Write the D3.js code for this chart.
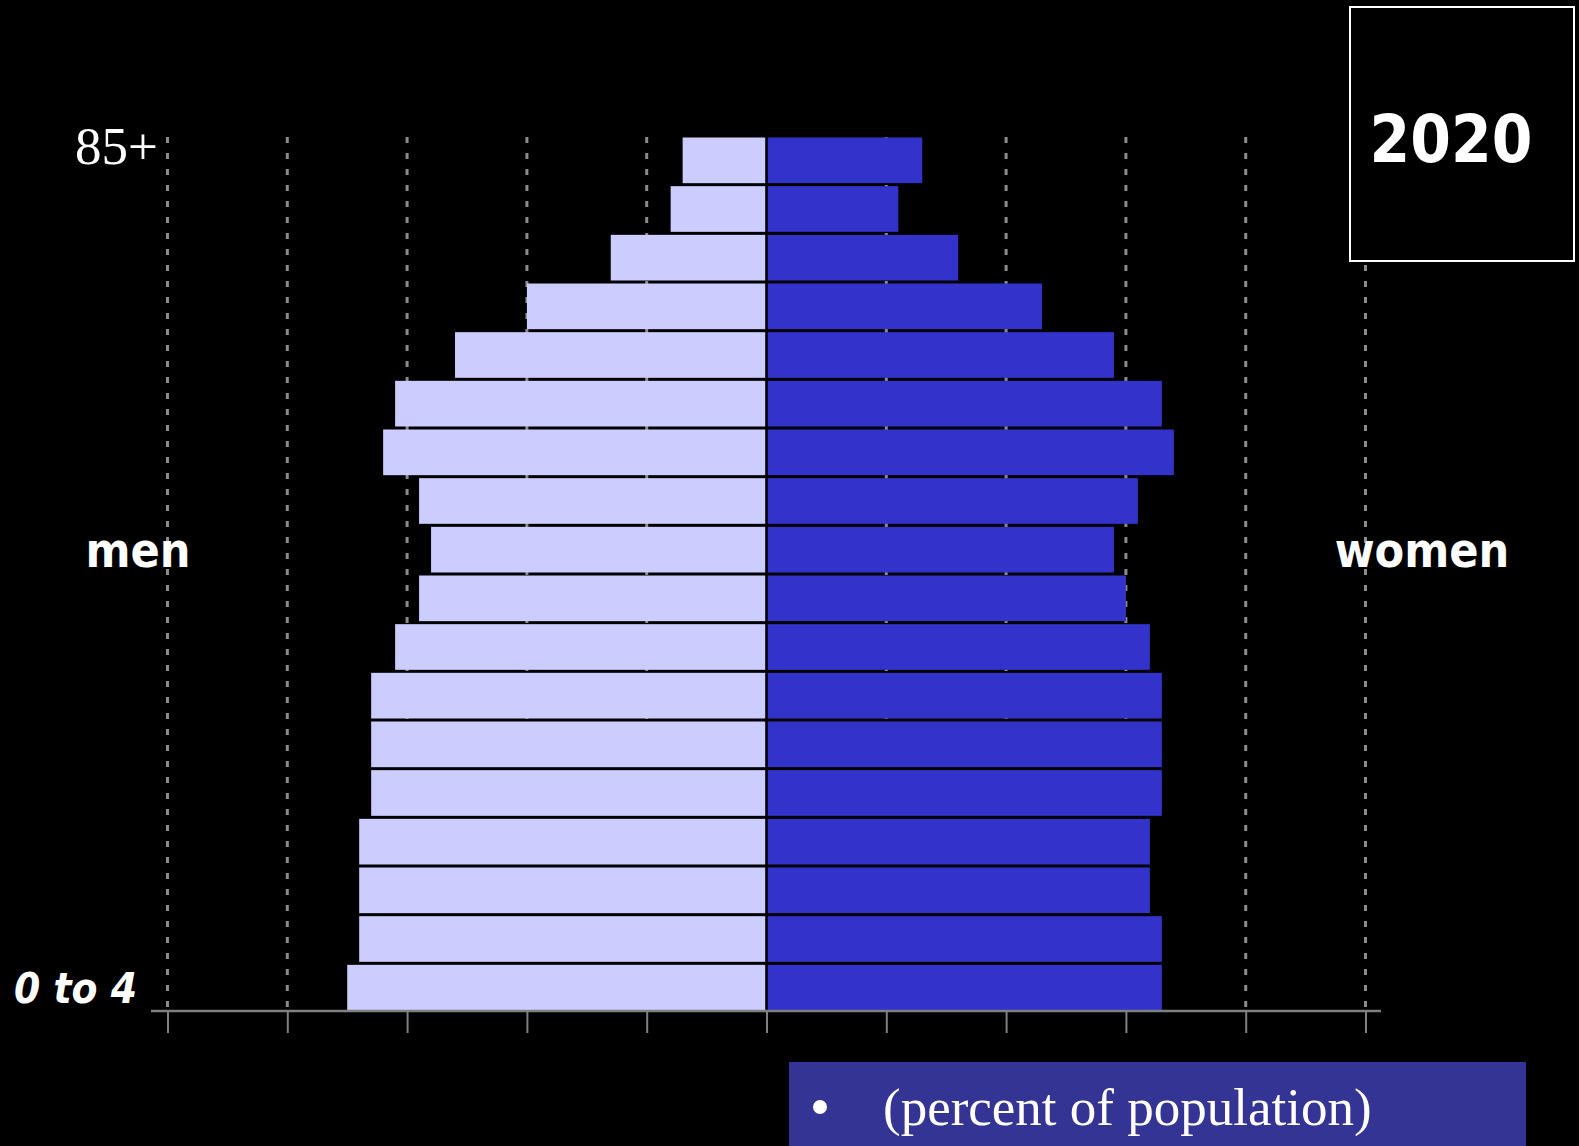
<!DOCTYPE html>
<html>
<head>
<meta charset="utf-8">
<script src="https://cdn.jsdelivr.net/npm/d3@7/dist/d3.min.js"></script>
<style>
  html, body { margin: 0; padding: 0; background: #000; }
  svg { display: block; }
</style>
</head>
<body>
<svg id="chart" width="1579" height="1146"></svg>
<script>
// Age groups, youngest first
const ageGroups = ["0 to 4", "5 to 9", "10 to 14", "15 to 19", "20 to 24", "25 to 29",
  "30 to 34", "35 to 39", "40 to 44", "45 to 49", "50 to 54", "55 to 59",
  "60 to 64", "65 to 69", "70 to 74", "75 to 79", "80 to 84", "85+"];
// Share of total population (%) per age group
const menValues = [3.5, 3.4, 3.4, 3.4, 3.3, 3.3, 3.3, 3.1, 2.9, 2.8, 2.9, 3.2,
  3.1, 2.6, 2.0, 1.3, 0.8, 0.7];
const womenValues = [3.3, 3.3, 3.2, 3.2, 3.3, 3.3, 3.3, 3.2, 3.0, 2.9, 3.1, 3.4,
  3.3, 2.9, 2.3, 1.6, 1.1, 1.3];
const tickValues = [-5, -4, -3, -2, -1, 0, 1, 2, 3, 4, 5];
const yearLabel = "2020";

const svg = d3.select("#chart");

const x = d3.scaleLinear().domain([-5, 5]).range([167.5, 1365.5]);
const y = d3.scaleBand().domain(ageGroups.slice().reverse()).range([134.5, 1010.5]).paddingInner(0);
const cx = x(0);
const gap = 1.3;
const barGap = 3;

// dotted vertical gridlines behind the bars
svg.append("g").selectAll("line")
  .data(tickValues.filter(t => t !== 0))
  .join("line")
  .attr("x1", d => x(d)).attr("x2", d => x(d))
  .attr("y1", 137).attr("y2", 1010)
  .attr("stroke", "#8c8c8c")
  .attr("stroke-width", 3)
  .attr("stroke-dasharray", "6,10");

const rows = ageGroups.map((a, i) => ({ age: a, men: menValues[i], women: womenValues[i] }));

// men, left side
svg.append("g").selectAll("rect")
  .data(rows)
  .join("rect")
  .attr("x", d => x(-d.men))
  .attr("y", d => y(d.age) + barGap)
  .attr("width", d => cx - gap - x(-d.men))
  .attr("height", y.bandwidth() - barGap)
  .attr("fill", "#ccccff");

// women, right side
svg.append("g").selectAll("rect")
  .data(rows)
  .join("rect")
  .attr("x", cx + gap)
  .attr("y", d => y(d.age) + barGap)
  .attr("width", d => x(d.women) - cx - gap)
  .attr("height", y.bandwidth() - barGap)
  .attr("fill", "#3333cc");

// bottom axis
const axisY = 1011;
const axis = d3.axisBottom(x).tickValues(tickValues).tickSize(22).tickSizeOuter(0).tickFormat("");
const axisG = svg.append("g").attr("transform", `translate(0,${axisY})`).call(axis);
axisG.select(".domain").remove();
axisG.selectAll(".tick line").attr("stroke", "#808080").attr("stroke-width", 2);
axisG.append("line")
  .attr("x1", 151).attr("x2", 1381).attr("y1", 0).attr("y2", 0)
  .attr("stroke", "#808080").attr("stroke-width", 2.5);

// age labels at the top and bottom rows
svg.append("text")
  .attr("x", 158).attr("y", 164)
  .attr("text-anchor", "end")
  .attr("fill", "#fff")
  .style("font-family", "'Liberation Serif', 'Times New Roman', serif")
  .style("font-size", "53px")
  .text(ageGroups[ageGroups.length - 1]);

svg.append("text")
  .attr("x", 137).attr("y", 1003)
  .attr("text-anchor", "end")
  .attr("fill", "#fff")
  .style("font-family", "'DejaVu Sans Condensed', 'DejaVu Sans', sans-serif")
  .style("font-stretch", "condensed")
  .style("font-weight", "bold")
  .style("font-style", "italic")
  .style("font-size", "42px")
  .text(ageGroups[0]);

// side labels
const sideFont = sel => sel
  .attr("fill", "#fff")
  .attr("text-anchor", "middle")
  .style("font-family", "'DejaVu Sans Condensed', 'DejaVu Sans', sans-serif")
  .style("font-stretch", "condensed")
  .style("font-weight", "bold")
  .style("font-size", "48px");
svg.append("text").attr("x", 138).attr("y", 567).call(sideFont).text("men");
svg.append("text").attr("x", 1422).attr("y", 567).call(sideFont).text("women");

// year box
svg.append("rect")
  .attr("x", 1350).attr("y", 7).attr("width", 224).attr("height", 254)
  .attr("fill", "#000").attr("stroke", "#fff").attr("stroke-width", 2);
svg.append("text")
  .attr("x", 1451).attr("y", 162)
  .attr("text-anchor", "middle")
  .attr("fill", "#fff")
  .style("font-family", "'DejaVu Sans Condensed', 'DejaVu Sans', sans-serif")
  .style("font-stretch", "condensed")
  .style("font-weight", "bold")
  .style("font-size", "65px")
  .text(yearLabel);

// units note
svg.append("rect")
  .attr("x", 789).attr("y", 1062).attr("width", 737).attr("height", 90)
  .attr("fill", "#343494");
svg.append("circle").attr("cx", 820).attr("cy", 1107).attr("r", 7).attr("fill", "#fff");
svg.append("text")
  .attr("x", 883).attr("y", 1125)
  .attr("fill", "#fff")
  .style("font-family", "'Liberation Serif', 'Times New Roman', serif")
  .style("font-size", "53px")
  .text("(percent of population)");
</script>
</body>
</html>
